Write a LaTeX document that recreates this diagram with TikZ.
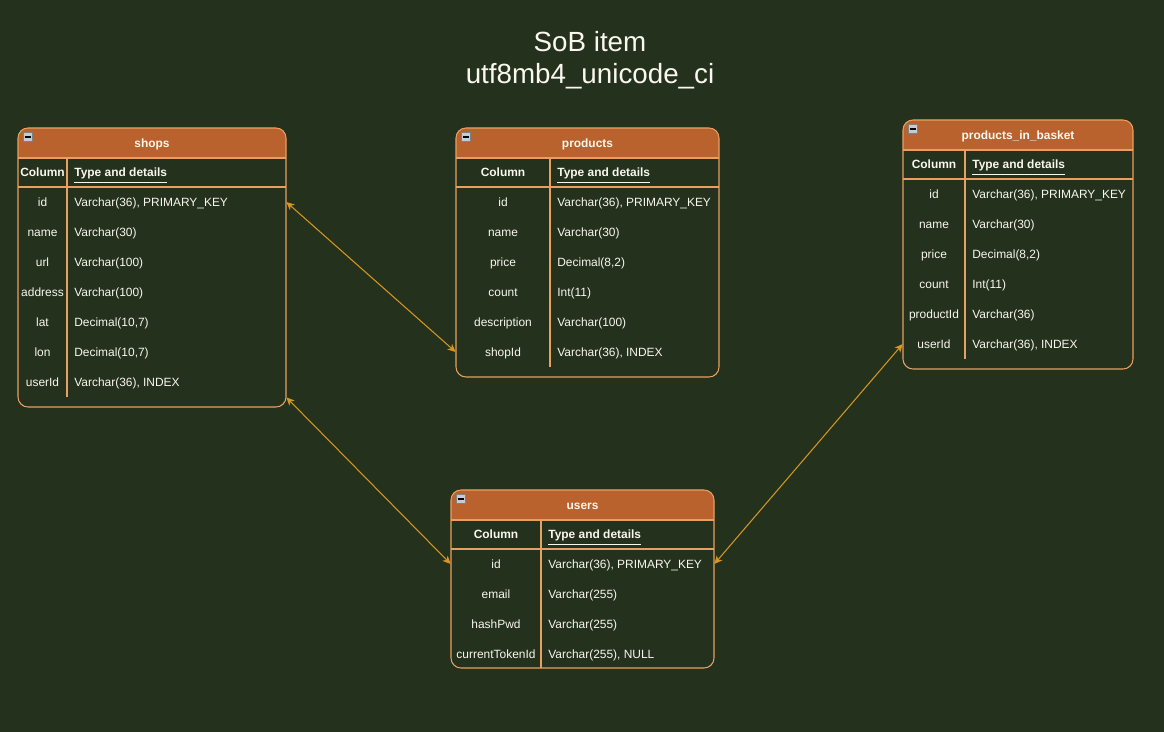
\documentclass[tikz,border=0pt]{standalone}
\usepackage{fontspec}
\setmainfont{Liberation Sans}
\usetikzlibrary{arrows.meta}

\definecolor{bgdark}{RGB}{36,49,29}
\definecolor{hdrorange}{RGB}{185,98,45}
\definecolor{tblborder}{RGB}{232,160,98}
\definecolor{linkgold}{RGB}{214,150,32}
\definecolor{txtwhite}{RGB}{250,247,238}
\definecolor{iconfill}{RGB}{196,202,214}

\tikzset{
  tblline/.style={draw=tblborder, line width=0.6pt},
  hdrtext/.style={font=\fontsize{6.8pt}{8pt}\selectfont\bfseries, inner sep=0pt, anchor=base},
  coltext/.style={font=\fontsize{6.8pt}{8pt}\selectfont\bfseries, inner sep=0pt, anchor=base},
  fieldtext/.style={inner sep=0pt, anchor=base},
  typetext/.style={inner sep=0pt, anchor=base west},
  rowbox/.style={inner sep=0pt, minimum height=0.6cm},
  titletext/.style={font=\fontsize{15.8pt}{18pt}\selectfont, inner sep=0pt, anchor=base},
  link/.style={draw=linkgold, line width=0.6pt,
    {Stealth[length=4.6pt, width=4.2pt, inset=1.3pt]}-{Stealth[length=4.6pt, width=4.2pt, inset=1.3pt]}}
}

% frame of one table: name, left, top, right, bottom, separator x, last row bottom, title
\newcommand{\tableframe}[8]{%
  \begin{scope}
    \clip (#2,#3) rectangle (#4,#3+30);
    \fill[hdrorange, rounded corners=0.2cm] (#2,#3) rectangle (#4,#5);
  \end{scope}
  \draw[tblline, rounded corners=0.2cm] (#2,#3) rectangle (#4,#5);
  \draw[tblline] (#2,#3+30) -- (#4,#3+30);
  \draw[tblline] (#2,#3+59) -- (#4,#3+59);
  \draw[tblline] (#6,#3+30) -- (#6,#7);
  % collapse icon
  \draw[draw=gray, fill=iconfill, line width=0.3pt] (#2+5,#3+4) rectangle (#2+14.5,#3+13.5);
  \draw[black, line width=1pt] (#2+6.5,#3+8.7) -- (#2+13,#3+8.7);
  \node[hdrtext] (#1) at ({(#2+#4)/2},#3+19.5) {#8};
  \node[coltext] (#1-colhead) at ({(#2+#6)/2},#3+49) {Column};
  \node[coltext, anchor=base west] (#1-typehead) at (#6+7,#3+49) {\underline{Type and details}};
}

\begin{document}
\begin{tikzpicture}[x=0.02cm, y=-0.02cm, font=\fontsize{6.8pt}{8pt}\selectfont, text=txtwhite]
  % background and size
  \fill[bgdark] (0,0) rectangle (1164,732);
  \useasboundingbox (0,0) rectangle (1164,732);

  % title
  \node[titletext] (title) at (590,52) {SoB item};
  \node[titletext] (collation) at (590,84) {utf8mb4\_unicode\_ci};

  % shops
  \tableframe{shops}{18}{128}{286}{407}{67}{397}{shops}
  \foreach \fld/\typ [count=\n] in {id/{Varchar(36), PRIMARY\_KEY}, name/Varchar(30),
      url/Varchar(100), address/Varchar(100), lat/{Decimal(10,7)}, lon/{Decimal(10,7)},
      userId/{Varchar(36), INDEX}}{
    \node[rowbox, minimum width=5.36cm] (shops-\fld) at (152,172+30*\n) {};
    \node[fieldtext] at (42.5,176.5+30*\n) {\fld};
    \node[typetext] at (74,176.5+30*\n) {\typ};
  }

  % products
  \tableframe{products}{456}{128}{719}{377}{550}{367}{products}
  \foreach \fld/\typ [count=\n] in {id/{Varchar(36), PRIMARY\_KEY}, name/Varchar(30),
      price/{Decimal(8,2)}, count/Int(11), description/Varchar(100),
      shopId/{Varchar(36), INDEX}}{
    \node[rowbox, minimum width=5.26cm] (products-\fld) at (587.5,172+30*\n) {};
    \node[fieldtext] at (503,176.5+30*\n) {\fld};
    \node[typetext] at (557,176.5+30*\n) {\typ};
  }

  % products_in_basket
  \tableframe{basket}{903}{120}{1133}{369}{965}{359}{products\_in\_basket}
  \foreach \fld/\typ [count=\n] in {id/{Varchar(36), PRIMARY\_KEY}, name/Varchar(30),
      price/{Decimal(8,2)}, count/Int(11), productId/Varchar(36),
      userId/{Varchar(36), INDEX}}{
    \node[rowbox, minimum width=4.6cm] (basket-\fld) at (1018,164+30*\n) {};
    \node[fieldtext] at (934,168.5+30*\n) {\fld};
    \node[typetext] at (972,168.5+30*\n) {\typ};
  }

  % users
  \tableframe{users}{451}{490}{714}{668}{541}{668}{users}
  \foreach \fld/\typ [count=\n] in {id/{Varchar(36), PRIMARY\_KEY}, email/Varchar(255),
      hashPwd/Varchar(255), currentTokenId/{Varchar(255), NULL}}{
    \node[rowbox, minimum width=5.26cm] (users-\fld) at (582.5,534+30*\n) {};
    \node[fieldtext] at (496,538.5+30*\n) {\fld};
    \node[typetext] at (548,538.5+30*\n) {\typ};
  }

  % relations
  \draw[link] (shops-id.east) -- (products-shopId.west);
  \draw[link] (shops-userId.south east) -- (users-id.west);
  \draw[link] (users-id.east) -- (basket-userId.west);
\end{tikzpicture}
\end{document}
